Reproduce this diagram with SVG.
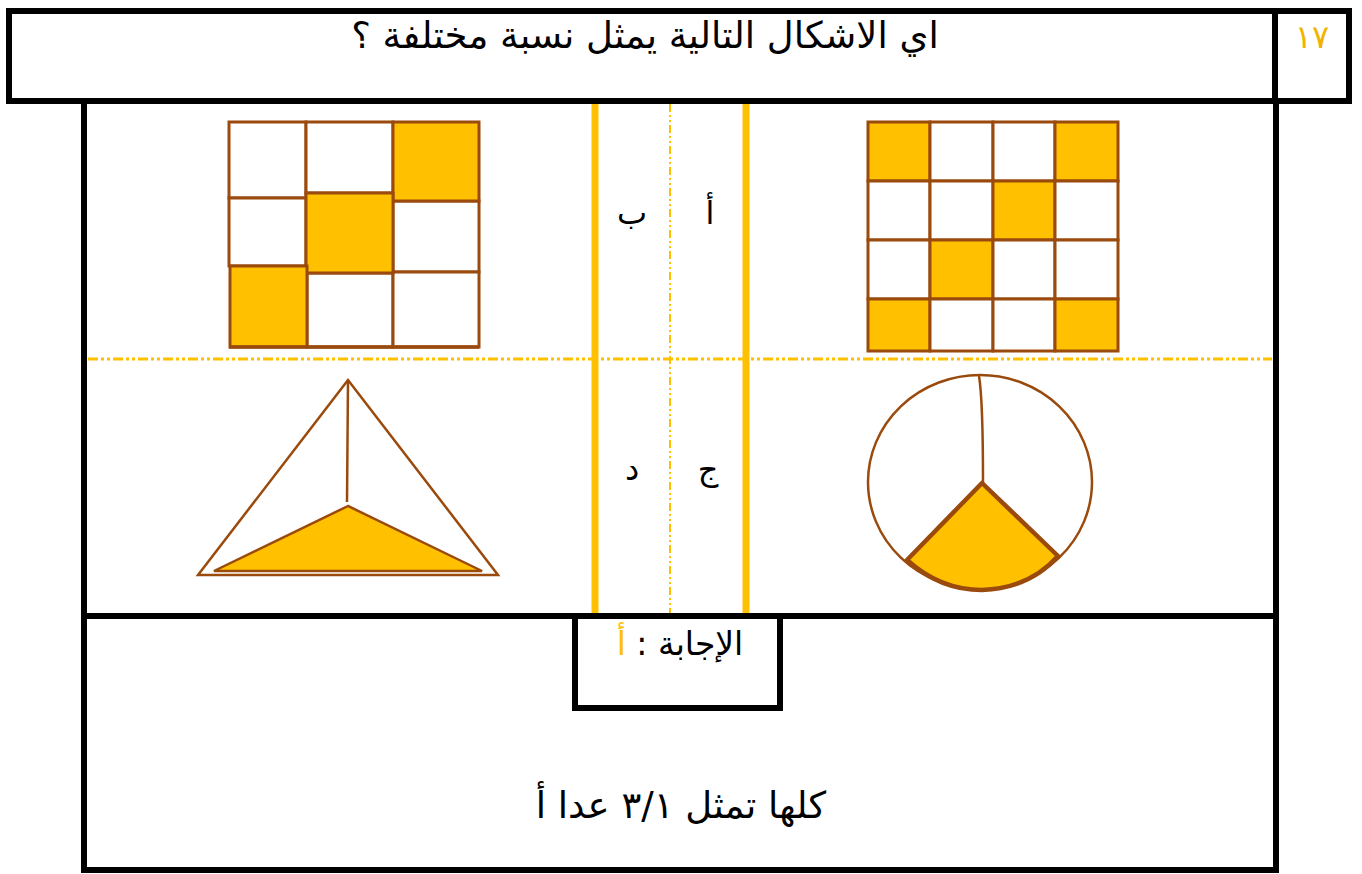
<svg xmlns="http://www.w3.org/2000/svg" width="1362" height="874" viewBox="0 0 1362 874">
<style>
.frame{fill:none;stroke:#000;stroke-width:6}
.cell{fill:#fff;stroke:#9A4A0C;stroke-width:3}
.on{fill:#FFC000;stroke:#9A4A0C;stroke-width:3}
.br{fill:none;stroke:#9A4A0C;stroke-width:2.5}
.ar{font-family:"DejaVu Sans","Noto Sans",sans-serif;fill:#000}
</style>
<rect width="1362" height="874" fill="#fff"/>
<g id="header">
<rect class="frame" x="9" y="11" width="1340" height="90"/>
<line class="frame" x1="1275" y1="11" x2="1275" y2="101"/>
<text class="ar" x="645" y="48" font-size="37" text-anchor="middle" direction="rtl">اي الاشكال التالية يمثل نسبة مختلفة ؟</text>
<text class="ar" x="1312" y="48" font-size="32" text-anchor="middle" style="fill:#F2B300">١٧</text>
</g>
<g id="main">
<path class="frame" d="M84 101 V870 H1276 V101"/>
<line class="frame" x1="84" y1="616" x2="1276" y2="616"/>
</g>
<g id="connectors">
<line x1="595" y1="104" x2="595" y2="613" stroke="#FFC000" stroke-width="7"/>
<line x1="746" y1="104" x2="746" y2="613" stroke="#FFC000" stroke-width="7"/>
<line x1="670" y1="104" x2="670" y2="613" stroke="#FFC000" stroke-width="2" stroke-dasharray="8 3 2 3 2 3"/>
<line x1="88" y1="359" x2="1272" y2="359" stroke="#FFC000" stroke-width="3" stroke-dasharray="10 3 3 3 3 3"/>
</g>
<g id="labels">
<text class="ar" x="710" y="224" font-size="32" text-anchor="middle">أ</text>
<text class="ar" x="632" y="224" font-size="32" text-anchor="middle">ب</text>
<text class="ar" x="708" y="480" font-size="32" text-anchor="middle">ج</text>
<text class="ar" x="632" y="480" font-size="32" text-anchor="middle">د</text>
</g>
<g id="shape-a">
<rect class="on" x="868" y="122" width="62" height="59"/>
<rect class="cell" x="930" y="122" width="63" height="59"/>
<rect class="cell" x="993" y="122" width="62" height="59"/>
<rect class="on" x="1055" y="122" width="63" height="59"/>
<rect class="cell" x="868" y="181" width="62" height="59"/>
<rect class="cell" x="930" y="181" width="63" height="59"/>
<rect class="on" x="993" y="181" width="62" height="59"/>
<rect class="cell" x="1055" y="181" width="63" height="59"/>
<rect class="cell" x="868" y="240" width="62" height="59"/>
<rect class="on" x="930" y="240" width="63" height="59"/>
<rect class="cell" x="993" y="240" width="62" height="59"/>
<rect class="cell" x="1055" y="240" width="63" height="59"/>
<rect class="on" x="868" y="299" width="62" height="52"/>
<rect class="cell" x="930" y="299" width="63" height="52"/>
<rect class="cell" x="993" y="299" width="62" height="52"/>
<rect class="on" x="1055" y="299" width="63" height="52"/>
</g>
<g id="shape-b">
<rect class="cell" x="229" y="122" width="77" height="76"/>
<rect class="cell" x="306" y="122" width="87" height="71"/>
<rect class="cell" x="229" y="198" width="77" height="68"/>
<rect class="cell" x="393" y="201" width="86" height="71"/>
<rect class="cell" x="307" y="273" width="86" height="74"/>
<rect class="cell" x="393" y="272" width="86" height="75"/>
<rect class="on" x="393" y="122" width="86" height="79"/>
<rect class="on" x="306" y="193" width="87" height="80"/>
<rect class="on" x="230" y="266" width="77" height="81"/>
<line x1="229" y1="347" x2="479" y2="347" stroke="#9A4A0C" stroke-width="3.5"/>
</g>
<g id="shape-c">
<ellipse class="br" cx="980" cy="482" rx="112" ry="107"/>
<path class="br" d="M979 376 Q983 400 983 483" stroke-width="2"/>
<path d="M982 483 L907 560 Q940 590 982 590 Q1030 588 1058 556 Z" fill="#FFC000" stroke="#9A4A0C" stroke-width="4.5" stroke-linejoin="round"/>
</g>
<g id="shape-d">
<path class="br" d="M348 380 L198 575 L498 575 Z"/>
<line class="br" x1="348" y1="381" x2="347" y2="502"/>
<path d="M348 506 L214 571 L482 571 Z" fill="#FFC000" stroke="#9A4A0C" stroke-width="2.5"/>
</g>
<g id="answer">
<path class="frame" d="M575 619 V708 H780 V619"/>
<text class="ar" x="680" y="655" font-size="33" text-anchor="middle" direction="rtl">الإجابة : <tspan fill="#FFC000">أ</tspan></text>
</g>
<g id="explanation">
<text class="ar" x="681" y="818" font-size="37" text-anchor="middle" direction="rtl">كلها تمثل ٣/١ عدا أ</text>
</g>
</svg>
